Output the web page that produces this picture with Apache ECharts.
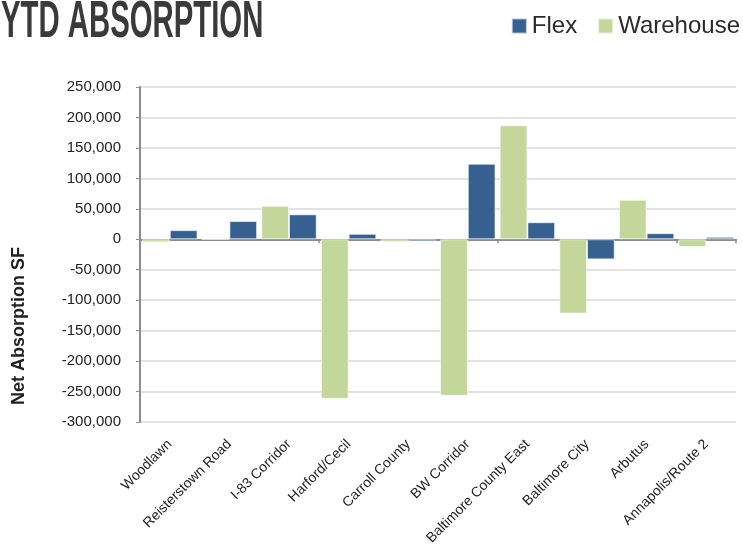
<!DOCTYPE html>
<html>
<head>
<meta charset="utf-8">
<script src="https://cdn.jsdelivr.net/npm/echarts@6/dist/echarts.min.js"></script>
<style>
  html, body { margin: 0; padding: 0; background: #fff; }
  #box1 { width: 743px; height: 545px; }
</style>
</head>
<body>
<div id="box1"></div>
<script>
var categories = ['Woodlawn', 'Reisterstown Road', 'I-83 Corridor', 'Harford/Cecil', 'Carroll County',
    'BW Corridor', 'Baltimore County East', 'Baltimore City', 'Arbutus', 'Annapolis/Route 2'];
var flex = [15000, 30000, 41000, 9000, -3500, 124000, 28000, -33000, 10000, 4000];
var warehouse = [-5000, 0, 55000, -262000, -4500, -257000, 187000, -122000, 65000, -12500];
var yTicks = { min: -300000, max: 250000, step: 50000 };

var narrow = "'Liberation Sans Narrow', 'Liberation Sans', Arial, sans-serif";

var myChart = echarts.init(document.getElementById('box1'));

var option = {
    backgroundColor: '#fff',
    animation: false,
    color: ['#c4d79b', '#36608f'],
    graphic: [{
        type: 'text',
        left: 1,
        top: -3,
        scaleX: 0.575,
        style: {
            text: 'YTD ABSORPTION',
            font: "bold 51px 'Liberation Sans', sans-serif",
            fill: '#3a3a3a'
        }
    }, {
        // axis title sits lower than the plot centre in the original
        type: 'text',
        x: 19,
        y: 326,
        rotation: Math.PI / 2,
        style: {
            text: 'Net Absorption SF',
            font: "bold 18px 'Liberation Sans', sans-serif",
            fill: '#222',
            align: 'center',
            verticalAlign: 'middle'
        }
    }],
    legend: {
        data: ['Flex', 'Warehouse'],
        right: -2,
        top: 9,
        itemWidth: 15,
        itemHeight: 15,
        itemGap: 20,
        icon: 'rect',
        textStyle: { fontSize: 24, fontFamily: narrow, color: '#2b2b2b' }
    },
    grid: { left: 140, right: 7, top: 87, bottom: 123, outerBoundsMode: 'none' },
    xAxis: [{
        type: 'category',
        data: categories,
        axisLine: { onZero: true, lineStyle: { color: '#8c8c8c', width: 2 } },
        axisTick: { show: true, length: 4, lineStyle: { color: '#8c8c8c', width: 1.5 } },
        axisLabel: { show: false }
    }, {
        type: 'category',
        data: categories,
        position: 'bottom',
        axisLine: { show: false, onZero: false },
        axisTick: { show: false },
        axisLabel: {
            rotate: 45,
            margin: 20,
            interval: 0,
            fontSize: 14,
            fontFamily: narrow,
            color: '#222'
        }
    }],
    yAxis: {
        type: 'value',
        min: yTicks.min,
        max: yTicks.max,
        interval: yTicks.step,
        axisLine: { show: true, lineStyle: { color: '#8c8c8c', width: 2 } },
        axisTick: { show: true, length: 4, lineStyle: { color: '#8c8c8c' } },
        axisLabel: { fontSize: 15, margin: 19, fontFamily: "'Liberation Sans', Arial, sans-serif", color: '#222' },
        splitLine: { show: true, lineStyle: { color: '#d9d9d9', width: 1.5 } }
    },
    series: [{
        name: 'Warehouse',
        type: 'bar',
        xAxisIndex: 0,
        data: warehouse,
        barGap: '0%',
        barCategoryGap: '7%',
        itemStyle: { borderColor: 'rgba(255,255,255,0.6)', borderWidth: 1 }
    }, {
        name: 'Flex',
        type: 'bar',
        xAxisIndex: 0,
        data: flex,
        barGap: '0%',
        barCategoryGap: '7%',
        itemStyle: { borderColor: 'rgba(255,255,255,0.6)', borderWidth: 1 }
    }]
};

myChart.setOption(option);
</script>
</body>
</html>
